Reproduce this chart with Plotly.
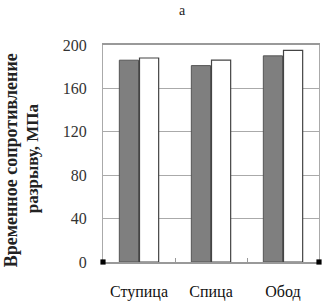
import plotly.graph_objects as go

categories = ["Ступица", "Спица", "Обод"]
series_a = [186, 181, 190]
series_b = [188, 186, 195]
y_ticks = [0, 40, 80, 120, 160, 200]

font = "Liberation Serif, Times New Roman, DejaVu Serif, serif"

T, B, L = 45, 266, 103
H = B - T

fig = go.Figure()
fig.add_trace(go.Bar(x=categories, y=series_a, marker=dict(color="#7f7f7f", line=dict(color="#555555", width=1))))
fig.add_trace(go.Bar(x=categories, y=series_b, marker=dict(color="#ffffff", line=dict(color="#444444", width=1.2))))

fig.update_layout(
    width=324, height=305,
    margin=dict(l=L, r=4, t=T, b=305 - B),
    paper_bgcolor="white", plot_bgcolor="white",
    showlegend=False,
    barmode="group", bargap=0.44, bargroupgap=0.05,
    font=dict(family=font, size=16, color="#222222"),
    xaxis=dict(showline=True, linecolor="#999999", linewidth=1.5, mirror=True,
               ticks="inside", ticklen=4, tickcolor="#999999", tickson="boundaries",
               ticklabelstandoff=14,
               tickfont=dict(family=font, size=16, color="#111111"), showgrid=False),
    yaxis=dict(range=[0, 200], tickvals=y_ticks, showline=True, linecolor="#aaaaaa", linewidth=1.2,
               mirror=True, showgrid=True, gridcolor="#aaaaaa", gridwidth=1,
               ticks="", ticklen=0, zeroline=False, ticklabelstandoff=12,
               tickfont=dict(family=font, size=16, color="#333333")),
)

fig.add_annotation(text="а", xref="paper", yref="paper", x=(183-L)/217, y=(B-1)/H,
                   xanchor="center", yanchor="top", showarrow=False,
                   borderpad=0,
                   font=dict(family=font, size=14, color="#222222"))
fig.add_annotation(text="<b>Временное сопротивление</b>", xref="paper", yref="paper",
                   x=(10-L)/217, y=(B-162)/H, xanchor="center", yanchor="middle",
                   textangle=-90, showarrow=False, font=dict(family=font, size=18, color="#222222"))
fig.add_annotation(text="<b>разрыву, МПа</b>", xref="paper", yref="paper",
                   x=(33-L)/217, y=(B-160)/H, xanchor="center", yanchor="middle",
                   textangle=-90, showarrow=False, font=dict(family=font, size=17, color="#222222"))

for px in (0, 1):
    fig.add_shape(type="rect", xref="paper", yref="paper",
                  x0=px - 0.012, x1=px + 0.012, y0=-0.012, y1=0.012,
                  fillcolor="black", line=dict(width=0))

fig.write_html("out.html", config={"displayModeBar": False},
               post_script="document.body.style.margin='0px';")
